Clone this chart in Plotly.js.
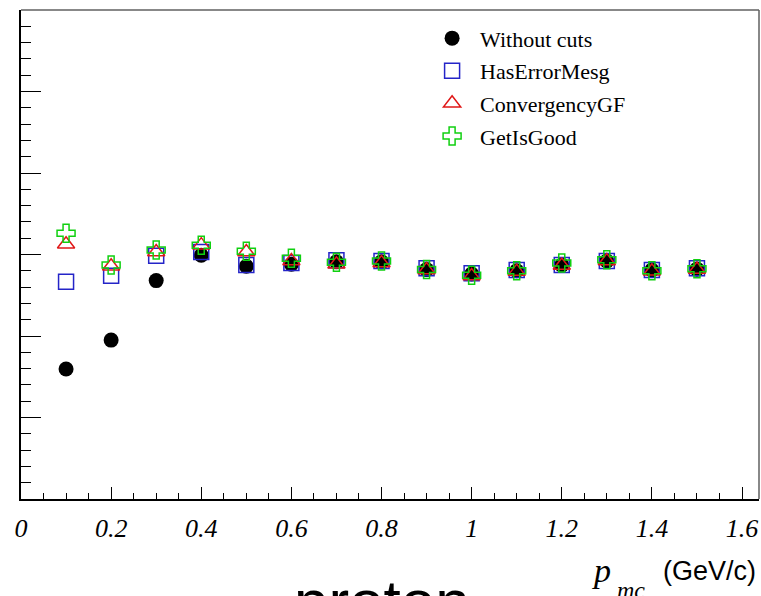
<!DOCTYPE html>
<html>
<head>
<meta charset="utf-8">
<script src="https://cdn.plot.ly/plotly-3.0.1.min.js"></script>
<style>html,body{margin:0;padding:0;background:#fff;}#chart{width:761px;height:596px;}</style>
</head>
<body>
<div id="chart"></div>
<script>
// momentum bins (GeV/c)
var pmc = [0.1, 0.2, 0.3, 0.4, 0.5, 0.6, 0.7, 0.8, 0.9, 1.0, 1.1, 1.2, 1.3, 1.4, 1.5];
// series values (arbitrary y units)
var withoutCuts   = [0.319, 0.390, 0.536, 0.598, 0.571, 0.576, 0.582, 0.582, 0.563, 0.552, 0.560, 0.574, 0.584, 0.562, 0.564];
var hasErrorMesg  = [0.533, 0.548, 0.597, 0.606, 0.574, 0.579, 0.586, 0.584, 0.566, 0.554, 0.562, 0.574, 0.584, 0.562, 0.566];
var convergencyGF = [0.625, 0.571, 0.606, 0.623, 0.606, 0.584, 0.576, 0.579, 0.562, 0.547, 0.558, 0.573, 0.584, 0.559, 0.563];
var getIsGood     = [0.652, 0.574, 0.611, 0.623, 0.608, 0.591, 0.581, 0.584, 0.563, 0.549, 0.560, 0.579, 0.587, 0.560, 0.565];
var seriesNames = ["Without cuts", "HasErrorMesg", "ConvergencyGF", "GetIsGood"];

var traces = [
  {x: pmc, y: withoutCuts, name: seriesNames[0], mode: "markers", type: "scatter", legendgroup: "a",
   marker: {symbol: "circle", size: 15, color: "#000000"}},
  {x: pmc, y: hasErrorMesg, name: seriesNames[1], mode: "markers", type: "scatter", legendgroup: "b",
   marker: {symbol: "square-open", size: 15, color: "#2424c8", line: {width: 1.5}}},
  {x: pmc, y: convergencyGF, name: seriesNames[2], mode: "markers", type: "scatter", legendgroup: "c",
   marker: {symbol: "triangle-up-open", size: 15, color: "#e01818", line: {width: 1.5}}},
  {x: pmc, y: getIsGood, name: seriesNames[3], mode: "markers", type: "scatter", legendgroup: "d",
   marker: {symbol: "cross-open", size: 15, color: "#10d010", line: {width: 1.5}}}
];

var serifItalic = {family: "Liberation Serif, Times New Roman, serif", size: 26, color: "#000", style: "italic"};

var layout = {
  width: 761, height: 596,
  margin: {l: 21, r: 2, t: 10, b: 97, pad: 0},
  paper_bgcolor: "#fff", plot_bgcolor: "#fff",
  showlegend: true,
  legend: {x: 0.5462, y: 0.985, xanchor: "left", yanchor: "top", bgcolor: "rgba(0,0,0,0)",
           font: {family: "Liberation Serif, Times New Roman, serif", size: 22, color: "#000"},
           tracegroupgap: 1, itemwidth: 46},
  xaxis: {range: [0, 1.6377], showgrid: false, zeroline: false,
          showline: true, linecolor: "#000", linewidth: 2,
          ticks: "inside", ticklen: 12, tickwidth: 1, tickcolor: "#000", dtick: 0.2, tick0: 0,
          minor: {ticks: "inside", ticklen: 6, tickwidth: 1, tickcolor: "#000", dtick: 0.05, showgrid: false},
          tickfont: serifItalic, ticklabelstandoff: 5},
  yaxis: {range: [0, 1.2], showgrid: false, zeroline: false,
          showline: true, linecolor: "#000", linewidth: 2,
          ticks: "inside", ticklen: 20, tickwidth: 1, tickcolor: "#000", dtick: 0.2, tick0: 0,
          minor: {ticks: "inside", ticklen: 10, tickwidth: 1, tickcolor: "#000", dtick: 0.04, showgrid: false},
          showticklabels: false},
  shapes: [
    {type: "line", xref: "paper", yref: "paper", x0: 0, x1: 1, y0: 1, y1: 1, line: {color: "#606060", width: 1.5}},
    {type: "line", xref: "paper", yref: "paper", x0: 1, x1: 1, y0: 0, y1: 1, line: {color: "#606060", width: 1.5}}
  ],
  annotations: [
    {text: "proton", xref: "paper", yref: "paper", x: 0.4898, y: -0.2086, xanchor: "center", yanchor: "middle",
     showarrow: false, font: {family: "Liberation Sans, Arial, sans-serif", size: 62, color: "#000"}},
    {text: "p", xref: "paper", yref: "paper", x: 0.771, y: -0.1460, xanchor: "left", yanchor: "middle",
     showarrow: false, font: {family: "Liberation Serif, Times New Roman, serif", size: 34, color: "#000", style: "italic"}},
    {text: "mc", xref: "paper", yref: "paper", x: 0.8049, y: -0.1858, xanchor: "left", yanchor: "middle",
     showarrow: false, font: {family: "Liberation Serif, Times New Roman, serif", size: 24, color: "#000", style: "italic"}},
    {text: "(GeV/c)", xref: "paper", yref: "paper", x: 0.8672, y: -0.1472, xanchor: "left", yanchor: "middle",
     showarrow: false, font: {family: "Liberation Sans, Arial, sans-serif", size: 27, color: "#000"}}
  ]
};

Plotly.newPlot("chart", traces, layout, {staticPlot: true, displayModeBar: false});
</script>
</body>
</html>
